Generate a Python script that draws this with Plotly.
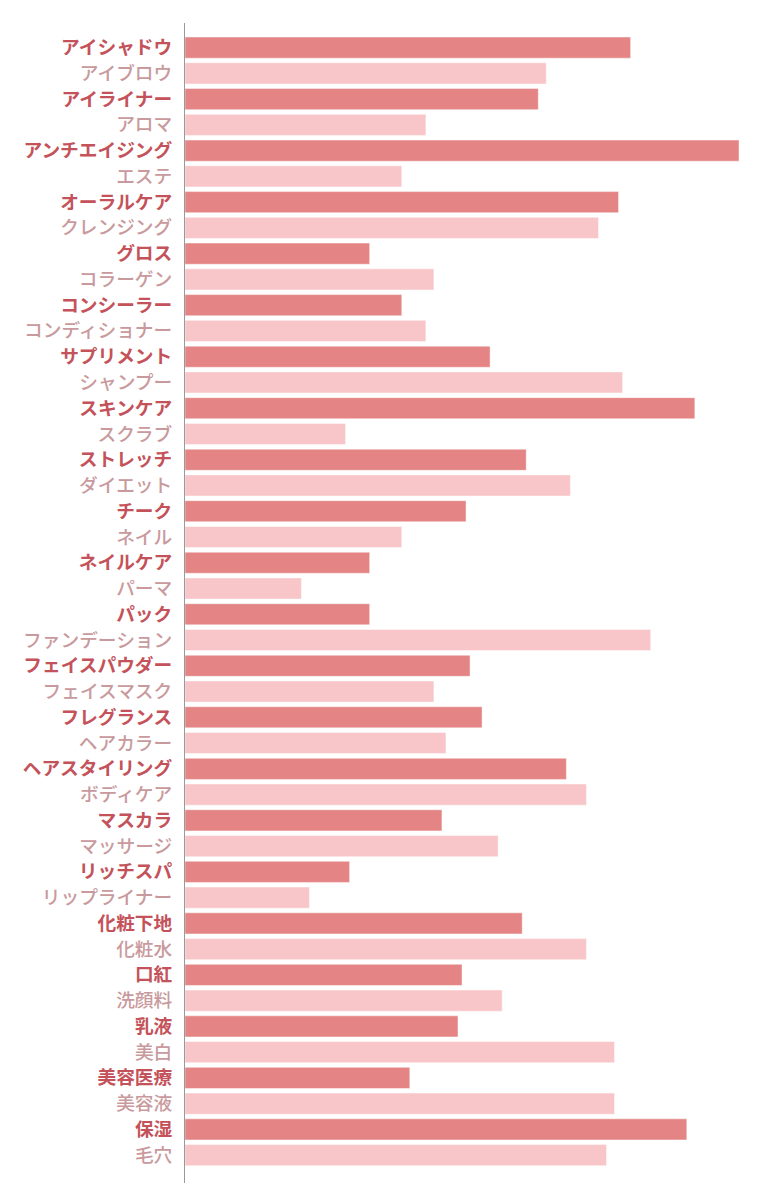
import plotly.graph_objects as go

# =========================
# データ
# =========================
categories = [
    "アイシャドウ", "アイブロウ", "アイライナー", "アロマ", "アンチエイジング",
    "エステ", "オーラルケア", "クレンジング", "グロス", "コラーゲン",
    "コンシーラー", "コンディショナー", "サプリメント", "シャンプー", "スキンケア",
    "スクラブ", "ストレッチ", "ダイエット", "チーク", "ネイル",
    "ネイルケア", "パーマ", "パック", "ファンデーション", "フェイスパウダー",
    "フェイスマスク", "フレグランス", "ヘアカラー", "ヘアスタイリング", "ボディケア",
    "マスカラ", "マッサージ", "リッチスパ", "リップライナー", "化粧下地",
    "化粧水", "口紅", "洗顔料", "乳液", "美白",
    "美容医療", "美容液", "保湿", "毛穴",
]
values = [
    111, 90, 88, 60, 138,
    54, 108, 103, 46, 62,
    54, 60, 76, 109, 127,
    40, 85, 96, 70, 54,
    46, 29, 46, 116, 71,
    62, 74, 65, 95, 100,
    64, 78, 41, 31, 84,
    100, 69, 79, 68, 107,
    56, 107, 125, 105,
]

# =========================
# 配色（交互）
# =========================
BAR_DARK = "#e48484"
BAR_LIGHT = "#f8c6c8"
LABEL_DARK = "#c4525a"
LABEL_LIGHT = "#c99a9d"

bar_colors = [BAR_DARK if i % 2 == 0 else BAR_LIGHT for i in range(len(categories))]
tick_text = [
    f"<span style='color:{LABEL_DARK};font-weight:700'>{c}</span>" if i % 2 == 0
    else f"<span style='color:{LABEL_LIGHT};font-weight:500'>{c}</span>"
    for i, c in enumerate(categories)
]

fig = go.Figure()

fig.add_trace(go.Bar(
    x=values,
    y=categories,
    orientation="h",
    marker=dict(
        color=bar_colors,
        line=dict(color="rgba(255,255,255,0.45)", width=1),
    ),
    hovertemplate="%{y}: %{x}<extra></extra>",
))

n = len(categories)

# ページの body 余白 (8px) を差し引いて配置
fig.update_layout(
    width=752,
    height=1192,
    plot_bgcolor="white",
    paper_bgcolor="white",
    bargap=0.18,
    showlegend=False,
    font=dict(family="Noto Sans CJK JP", size=18.7, color="#999"),
    margin=dict(l=177, r=21, t=15, b=17),
    xaxis=dict(
        range=[0, 138],
        visible=False,
        showgrid=False,
        zeroline=False,
    ),
    yaxis=dict(
        range=[n - 1 + 1.08, -0.955],
        tickmode="array",
        tickvals=categories,
        ticktext=tick_text,
        showline=True,
        linecolor="#999999",
        linewidth=1,
        showgrid=False,
        ticks="",
        ticklabelstandoff=8,
    ),
)

fig.write_html("out.html")
